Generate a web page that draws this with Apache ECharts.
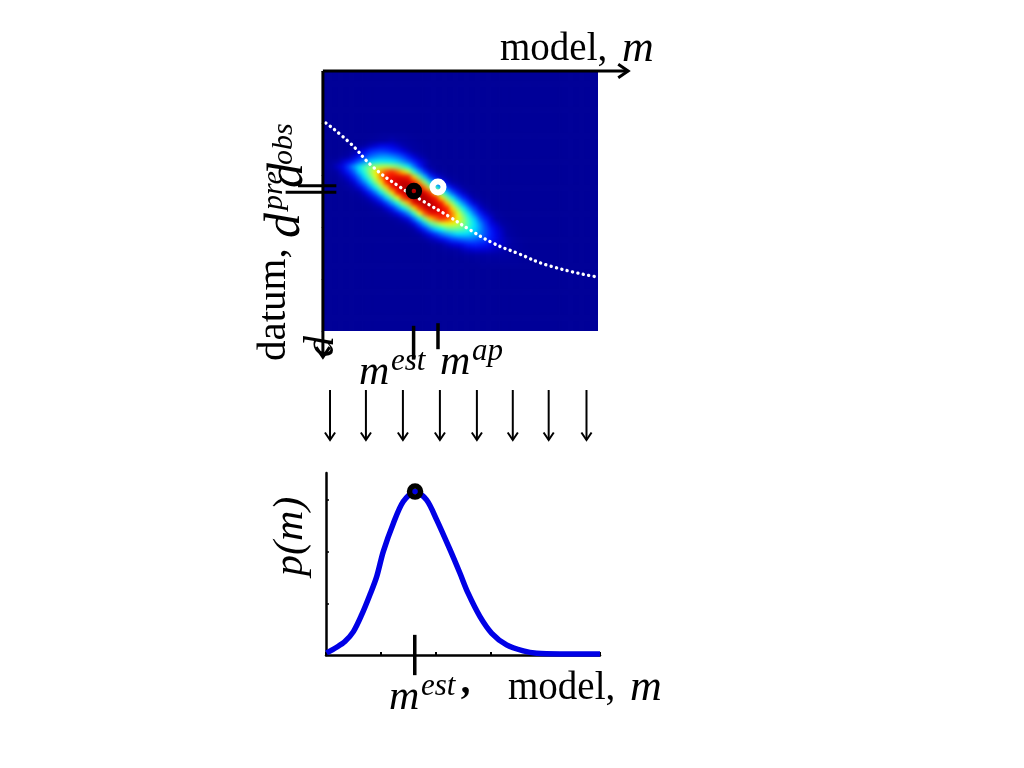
<!DOCTYPE html>
<html><head><meta charset="utf-8">
<style>html,body{margin:0;padding:0;background:#fff}#c{width:1024px;height:768px}
#c canvas:first-of-type{filter:blur(2.2px);clip-path:inset(71px 426px 437px 324px)}</style>
<script src="https://cdn.jsdelivr.net/npm/echarts@6/dist/echarts.min.js"></script>
</head><body><div id="c"></div>
<script>
// Heat map: [row, first column, values...] on a 50 x 50 grid of probability (percent of peak); unlisted cells are 0
const heatRows = [
[12,9,[1,2,2,3,2,2,1]],
[13,7,[1,2,3,4,5,6,5,4,3,2,1]],
[14,5,[1,3,5,7,9,11,11,10,8,6,5,3,2,1]],
[15,3,[1,3,5,8,11,15,17,18,17,15,13,10,7,5,3,1]],
[16,2,[1,3,5,8,12,17,22,25,27,27,25,22,18,13,9,6,4]],
[17,0,[2,3,5,8,11,15,21,27,33,36,37,36,35,32,27,21,15,10,7,2,1]],
[18,0,[3,5,8,11,18,27,36,44,50,54,56,56,54,50,44,37,25,15,8,4,2,1]],
[19,0,[1,3,5,9,14,21,33,42,53,62,73,81,84,77,68,57,42,28,16,8,5,3,1]],
[20,1,[1,3,6,9,15,24,36,47,59,75,86,88,89,88,86,67,48,32,17,11,7,4,2,1]],
[21,2,[1,3,6,9,17,26,38,51,65,85,89,91,93,92,86,72,52,35,24,14,9,5,3,1]],
[22,3,[1,3,6,9,16,26,38,52,67,86,90,94,95,94,90,75,55,41,29,18,11,7,4,2]],
[23,4,[1,3,5,9,15,24,37,50,65,86,90,95,96,95,90,82,60,47,34,21,13,8,5,2,1]],
[24,5,[1,2,5,8,13,21,34,47,60,82,89,94,95,95,90,86,65,50,37,24,15,9,5,3,1]],
[25,7,[2,4,7,11,18,29,41,55,70,88,92,94,94,90,86,67,52,38,26,16,9,6,3,1]],
[26,8,[1,3,5,9,14,24,35,46,65,82,90,93,91,89,85,65,51,38,26,17,9,6,3,1]],
[27,9,[1,2,4,7,11,17,27,42,60,79,88,89,88,86,75,59,47,36,24,15,9,6,3,1]],
[28,11,[1,3,5,8,12,23,37,52,68,77,84,81,73,62,53,42,33,21,14,9,5,3,1]],
[29,13,[2,3,6,11,20,32,45,52,58,61,61,57,51,44,36,27,18,11,8,5,3,1]],
[30,14,[1,2,5,10,16,26,34,40,45,47,47,45,41,35,28,20,14,10,7,4,2,1]],
[31,16,[2,4,8,12,17,23,28,32,35,35,34,31,26,20,15,11,8,5,3,1]],
[32,17,[1,3,6,8,11,14,18,20,22,23,22,20,18,14,11,8,6,4,2,1]],
[33,19,[2,3,5,7,9,10,12,14,15,14,13,11,9,8,6,4,3,1]],
[34,20,[1,2,3,4,5,7,8,9,9,9,8,7,6,5,4,3,1,1]],
[35,22,[1,1,2,3,4,5,5,5,5,5,5,4,3,2,1,1]],
[36,25,[1,1,2,2,3,3,3,3,3,2,2,1,1]],
[37,28,[1,1,1,1,1,1,1,1]]
];
const jetColors = ['#000098','#0000a4','#0000e0','#0020ff','#0050ff','#0080ff','#00b0ff','#00e0ff','#10ffef','#50ffaf','#80ff80','#afff50','#efff10','#ffe000','#ffb000','#ff8000','#ff5000','#ff2000','#e00000','#b00000','#800000'];
// Dotted prediction curve d = g(m)
const curveM = [0.7,9.5,17.9,27.7,36.1,46,52.2,61.7,70.4,82.5,99.6];
const curveD = [20,27.7,36.9,44.6,50,56.2,60.4,66.2,70,75,79.2];
// Estimated and a-priori points
const estPoint = [32.8,46.2];
const apPoint = [41.6,44.6];
// Lower panel: p(m)
const pM = [0.2,3.9,6.9,10,13,16,18.5,20.9,24.6,28.2,32.5,36.7,40.4,45.3,48.9,51.9,56.2,60.5,65.9,72,76.9,85.4,100];
const pV = [.002,.0075,.013,.0226,.0387,.058,.0758,.1,.1275,.1484,.158,.15,.1307,.1016,.079,.0595,.0371,.021,.0097,.0039,.0016,.001,.001];
const pPeak = [32.5,.158];
// Vertical slice arrows at these model values
const sliceM = [2.2,15.3,28.8,42.3,55.8,68.9,82,95.8];

// the heat grid carries a margin of empty cells so its edge stays solid under the soft filter
const pad = 3, N = 50 + 2*pad;
const grid = [];
for (let r=0;r<N;r++) grid.push(new Array(N).fill(0));
heatRows.forEach(([r,c,v])=>v.forEach((x,i)=>{grid[r+pad][c+i+pad]=x;}));
const heat = [];
grid.forEach((a,r)=>a.forEach((x,c)=>heat.push({value:[c,r,x],itemStyle:{borderColor:echarts.color.lerp(x/100,jetColors),borderWidth:0.6}})));
const cats = Array.from({length:N},(_,i)=>String(i));
const cw = 274/50, ch = 260/50;

function seg(){
  return function(params,api){
    const a=api.coord([api.value(0),api.value(1)]), b=api.coord([api.value(2),api.value(3)]);
    const w=api.value(4), h=api.value(5);
    const kids=[{type:'line',shape:{x1:a[0],y1:a[1],x2:b[0],y2:b[1]},style:{stroke:'#000',lineWidth:w}}];
    if(h>0){
      const t=Math.atan2(b[1]-a[1],b[0]-a[0]);
      const p=(s)=>[b[0]-h*Math.cos(t+s),b[1]-h*Math.sin(t+s)];
      kids.push({type:'polyline',shape:{points:[p(0.6),b,p(-0.6)]},style:{stroke:'#000',lineWidth:w,fill:null}});
    }
    return {type:'group',children:kids};
  };
}
// segments: m0,d0,m1,d1,lineWidth,arrow head
const topSegs = [
 [-0.4,0,111,0,3,12],
 [-0.4,0,-0.4,110,3,12],
 [-9.5,44.1,4.5,44.1,3,0],
 [-14,46.6,4.5,46.6,3,0],
 [32.7,98,32.7,111,3.5,0],
 [41.6,97,41.6,107,3.5,0]
].concat(sliceM.map(m=>[m,122.7,m,141.9,2,9]));
const lowSegs = [[32.4,-.0195,32.4,.0195,3.5,0]];

const F='"Liberation Serif","Times New Roman",serif';
function T(str,x,y,size,italic,rot,bold){
  return {type:'text',x:x,y:y,rotation:rot||0,z:50,silent:true,style:{text:str,fill:'#000',
    font:(italic?'italic ':'')+(bold?'bold ':'')+size+'px '+F,textAlign:'left',textVerticalAlign:'middle'}};
}
const R=Math.PI/2;
const texts=[
 T('model,',500,50,39,false), T('m',622,49,44,true),
 T('datum,',274,361,41,false,R),
 T('d',286,238,50,true,R), T('pre',274,210,30,true,R),
 T('d',289,188,50,true,R), T('obs',284,165,30,true,R),
 T('d',322,357,42,true,R),
 T('m',359,373,42,true), T('est',391,362,31,true),
 T('m',440,363,42,true), T('ap',472,352,31,true),
 T('p(m)',291,576,42,true,R),
 T('m',389,698,42,true), T('est',421,687,31,true), T('\u2019',457,703,40,true,0,true),
 T('model,',508,689,39,false), T('m',630,688,44,true)
];

const chart=echarts.init(document.getElementById('c'));
chart.setOption({
 animation:false,
 graphic:{elements:texts},
 visualMap:{show:false,type:'continuous',min:0,max:100,seriesIndex:0,calculable:false,inRange:{color:jetColors}},
 grid:[
  {left:324-pad*cw,top:71-pad*ch,width:N*cw,height:N*ch},
  {left:324,top:71,width:274,height:260},
  {left:326,top:473,width:274,height:182}
 ],
 xAxis:[
  {type:'category',gridIndex:0,data:cats,show:false},
  {type:'value',gridIndex:1,min:0,max:100,position:'top',interval:20,axisLine:{show:false},axisTick:{show:false},axisLabel:{show:false},splitLine:{show:false}},
  {type:'value',gridIndex:2,min:0,max:100,interval:20,axisLine:{lineStyle:{color:'#000',width:2.5}},axisTick:{inside:true,length:3,lineStyle:{color:'#000',width:2}},axisLabel:{show:false},splitLine:{show:false}}
 ],
 yAxis:[
  {type:'category',gridIndex:0,data:cats,inverse:true,show:false},
  {type:'value',gridIndex:1,min:0,max:100,interval:20,inverse:true,axisLine:{show:false},axisTick:{length:3,lineStyle:{color:'#bbb'}},axisLabel:{show:false},splitLine:{show:false}},
  {type:'value',gridIndex:2,min:0,max:0.176,interval:0.05,axisLine:{lineStyle:{color:'#000',width:2.5}},axisTick:{inside:true,length:3,customValues:[0,.05,.1,.15],lineStyle:{color:'#000',width:1.5}},axisLabel:{show:false},splitLine:{show:false}}
 ],
 series:[
  {type:'heatmap',zlevel:-1,xAxisIndex:0,yAxisIndex:0,data:heat,progressive:0,z:1,emphasis:{disabled:true}},
  {type:'line',xAxisIndex:1,yAxisIndex:1,data:curveM.map((m,i)=>[m,curveD[i]]),smooth:true,showSymbol:false,symbol:'none',z:3,
    lineStyle:{color:'#fff',width:3.4,type:[0.1,5.4],cap:'round'}},
  {type:'scatter',xAxisIndex:1,yAxisIndex:1,data:[estPoint],symbol:'circle',symbolSize:10.5,z:4,
    itemStyle:{color:'rgba(0,0,0,0)',borderColor:'#000',borderWidth:6,opacity:1}},
  {type:'scatter',xAxisIndex:1,yAxisIndex:1,data:[apPoint],symbol:'circle',symbolSize:11,z:4,
    itemStyle:{color:'rgba(0,0,0,0)',borderColor:'#fff',borderWidth:6,opacity:1}},
  {type:'custom',xAxisIndex:1,yAxisIndex:1,data:topSegs,renderItem:seg(),z:5,clip:false,encode:{x:[0,2],y:[1,3]}},
  {type:'line',xAxisIndex:2,yAxisIndex:2,data:pM.map((m,i)=>[m,pV[i]]),smooth:0.3,showSymbol:false,symbol:'none',z:3,clip:false,
    lineStyle:{color:'#0000e6',width:5.5}},
  {type:'scatter',xAxisIndex:2,yAxisIndex:2,data:[pPeak],symbol:'circle',symbolSize:11,z:4,
    itemStyle:{color:'rgba(0,0,0,0)',borderColor:'#000',borderWidth:5.5,opacity:1}},
  {type:'custom',xAxisIndex:2,yAxisIndex:2,data:lowSegs,renderItem:seg(),z:5,clip:false,encode:{x:[0,2],y:[1,3]}}
 ]
});
</script></body></html>
